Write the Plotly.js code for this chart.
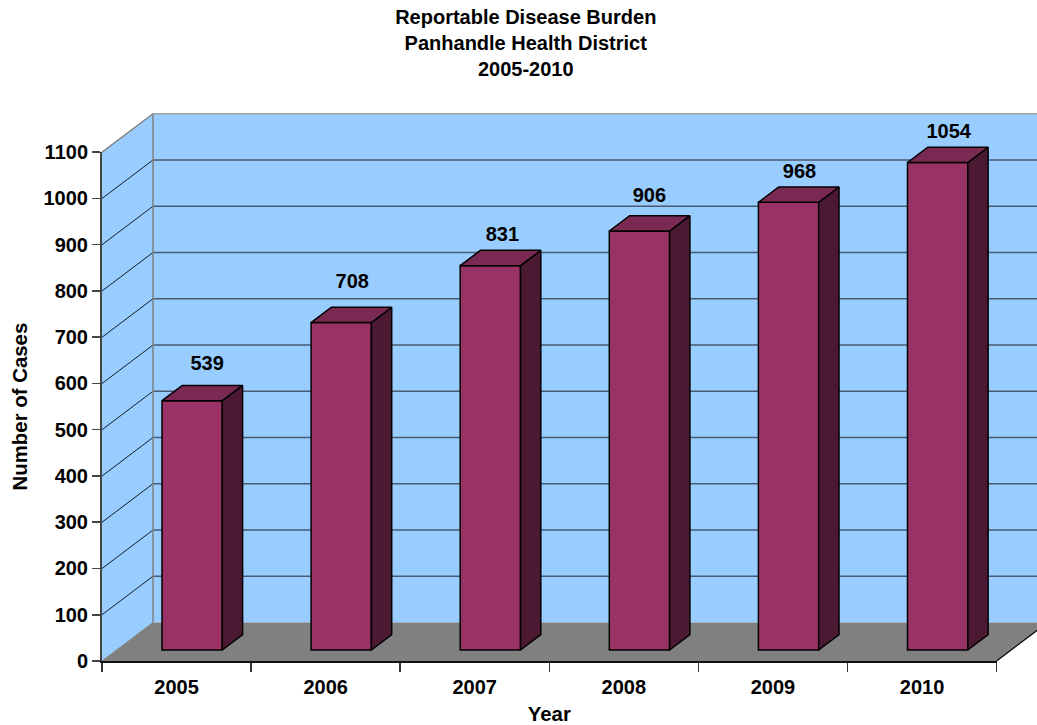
<!DOCTYPE html>
<html><head><meta charset="utf-8">
<script src="https://cdn.plot.ly/plotly-3.0.1.min.js"></script>
<style>html,body{margin:0;padding:0;background:#fff;overflow:hidden}</style>
</head><body><div id="chart" style="width:1037px;height:725px"></div>
<script>
const years = ['2005','2006','2007','2008','2009','2010'];
const cases = [539,708,831,906,968,1054];
const gridValues = [0,100,200,300,400,500,600,700,800,900,1000,1100];

// geometry constants
const PX_CAT = 149.1, PX_UNIT = 0.4625;
const WALL_DX = 51/PX_CAT, WALL_DY = 38.5/PX_UNIT;
const BAR_W = 60.3/PX_CAT, BAR_OFF = 60/PX_CAT - 0.5;
const BAR_BASE = 11/PX_UNIT;
const BAR_DX = 20.3/PX_CAT, BAR_DY = 15.3/PX_UNIT;
const labelDx = [15,11,12,10,11,11];
const labelDy = [36,40,30,34,29,30];

const FONT = 'Liberation Sans, Arial, sans-serif';
const XMAX = 935/PX_CAT, YMAX = 551/PX_UNIT;
const traces = [];
function poly(x,y,fill,lineColor,lineW,xa,ya){
  traces.push({type:'scatter',mode:lineColor?'lines':'none',x:x,y:y,fill:'toself',fillcolor:fill,
    line:{color:lineColor||fill,width:lineW||0},xaxis:xa,yaxis:ya,hoverinfo:'skip',showlegend:false,cliponaxis:false});
}
function line(x,y,color,w,xa,ya){
  traces.push({type:'scatter',mode:'lines',x:x,y:y,line:{color:color,width:w},xaxis:xa,yaxis:ya,
    hoverinfo:'skip',showlegend:false,cliponaxis:false});
}
// walls and floor
const maxV = gridValues[gridValues.length-1];
poly([WALL_DX,XMAX+1,XMAX+1,WALL_DX,WALL_DX],[WALL_DY,WALL_DY,maxV+WALL_DY,maxV+WALL_DY,WALL_DY],'#99CCFF',null,0,'x','y');
poly([0,WALL_DX,WALL_DX,0,0],[0,WALL_DY,maxV+WALL_DY,maxV,0],'#99CCFF',null,0,'x','y');
poly([0,6,6+WALL_DX,WALL_DX,0],[0,0,WALL_DY,WALL_DY,0],'#808080',null,0,'x','y');
// grid
gridValues.slice(1,-1).forEach(v=>{
  line([WALL_DX,XMAX+1],[v+WALL_DY,v+WALL_DY],'#4A5A70',1.5,'x','y');
  line([0,WALL_DX],[v,v+WALL_DY],'#10202C',1,'x','y');
});
line([0,WALL_DX,WALL_DX],[maxV,maxV+WALL_DY,WALL_DY],'#808080',1.5,'x','y');
line([WALL_DX,XMAX+1],[maxV+WALL_DY,maxV+WALL_DY],'#A0A0A0',1.5,'x','y');
line([0,WALL_DX],[0,WALL_DY],'#808080',1,'x','y');
line([6,6+WALL_DX],[0,WALL_DY],'#000000',1.2,'x','y');

// front faces
traces.push({type:'bar',x:years,y:cases,base:BAR_BASE,width:BAR_W,offset:BAR_OFF,
  marker:{color:'#993366',line:{color:'#000000',width:1.5}},xaxis:'x2',yaxis:'y2',showlegend:false,hoverinfo:'x+y',cliponaxis:false});
// side and top faces (upper subplot spans the whole drawing; category i starts at x = i)
years.forEach((yr,i)=>{
  const l = i+0.5+BAR_OFF, r = l+BAR_W, b = BAR_BASE, t = BAR_BASE+cases[i];
  poly([r,r+BAR_DX,r+BAR_DX,r,r],[b,b+BAR_DY,t+BAR_DY,t,b],'#4C1933','#000000',1.5,'x3','y3');
  poly([l,l+BAR_DX,r+BAR_DX,r,l],[t,t+BAR_DY,t+BAR_DY,t,t],'#7A2952','#000000',1.5,'x3','y3');
});
// value labels
traces.push({type:'scatter',mode:'text',
  x:years.map((yr,i)=>i+0.5+BAR_OFF+BAR_W/2+labelDx[i]/PX_CAT),
  y:cases.map((c,i)=>BAR_BASE+c+labelDy[i]/PX_UNIT),
  text:cases.map(String),textposition:'middle center',
  textfont:{family:FONT,size:20,color:'#000',weight:700},
  xaxis:'x3',yaxis:'y3',hoverinfo:'skip',showlegend:false,cliponaxis:false});

const tickFont = {family:FONT,size:20,color:'#000',weight:700};
const axisTitleFont = {family:FONT,size:20.4,color:'#000',weight:700};
const layout = {
  width:1037,height:725,autosize:false,showlegend:false,barmode:'overlay',
  paper_bgcolor:'#fff',plot_bgcolor:'rgba(0,0,0,0)',
  margin:{l:102,r:0,t:110,b:64,pad:0},
  title:{text:'Reportable Disease Burden<br>Panhandle Health District<br>2005-2010',
    font:{family:FONT,size:20,color:'#000',weight:700},x:0.507,xanchor:'center',y:0.967,yanchor:'top'},
  xaxis:{type:'linear',domain:[0,1],range:[0,XMAX],visible:false,fixedrange:true},
  yaxis:{type:'linear',domain:[0,1],range:[0,YMAX],visible:false,fixedrange:true},
  xaxis2:{type:'category',domain:[0,894.6/935],range:[-0.5,5.5],anchor:'y2',categoryorder:'array',categoryarray:years,
    tickson:'boundaries',ticks:'outside',ticklen:9,tickwidth:1.5,tickcolor:'#333',showline:true,linecolor:'#111',linewidth:1.5,
    showgrid:false,zeroline:false,tickfont:tickFont,fixedrange:true,ticklabelstandoff:7,
    title:{text:'Year',font:axisTitleFont,standoff:21}},
  yaxis2:{type:'linear',domain:[0,508.8/551],range:[0,1100],anchor:'x2',tickvals:gridValues,ticktext:gridValues.map(String),
    ticks:'outside',ticklen:8,tickwidth:1.5,tickcolor:'#444',showline:true,linecolor:'#444',linewidth:2,
    showgrid:false,zeroline:false,tickfont:tickFont,fixedrange:true,
    title:{text:'Number of Cases',font:axisTitleFont,standoff:10}},
  xaxis3:{type:'linear',domain:[0,1],range:[0,XMAX],visible:false,anchor:'y3',fixedrange:true},
  yaxis3:{type:'linear',domain:[0,1],range:[0,YMAX],visible:false,anchor:'x3',fixedrange:true}
};
Plotly.newPlot('chart',traces,layout,{displayModeBar:false,staticPlot:true});
</script></body></html>
